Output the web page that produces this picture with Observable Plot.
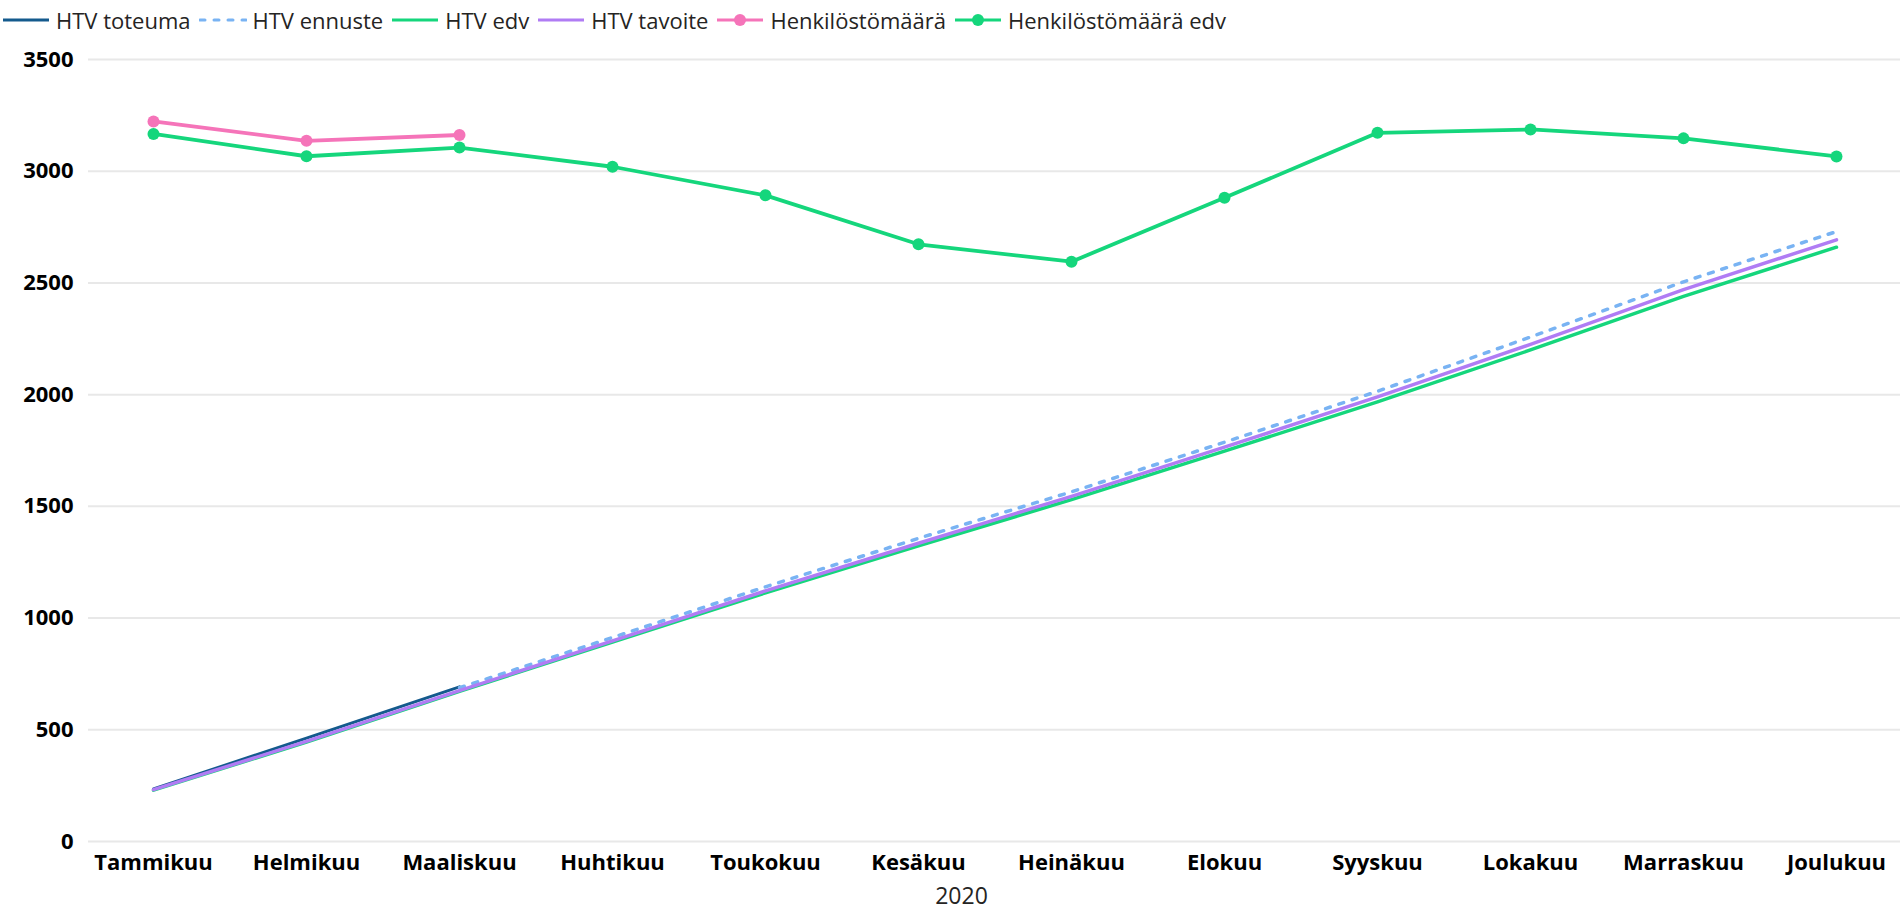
<!DOCTYPE html>
<html><head><meta charset="utf-8">
<script src="https://cdn.jsdelivr.net/npm/d3@7"></script>
<script src="https://cdn.jsdelivr.net/npm/@observablehq/plot@0.6"></script>
<style>
body{margin:0;background:#fff;font-family:"Open Sans",sans-serif;}
#legend{height:40px;display:flex;align-items:center;padding-left:2px;font-size:22px;color:#252423;white-space:nowrap;}
.item{display:flex;align-items:center;margin-right:8px;}
.item svg{margin-right:6px;}
</style></head><body><div id="legend"></div><div id="chart"></div>
<script>
const months = ["Tammikuu","Helmikuu","Maaliskuu","Huhtikuu","Toukokuu","Kesäkuu","Heinäkuu","Elokuu","Syyskuu","Lokakuu","Marraskuu","Joulukuu"];
const yTicks = [0,500,1000,1500,2000,2500,3000,3500];
const htvToteuma = [235,463,692,null,null,null,null,null,null,null,null,null];
const htvEnnuste = [null,null,688,913,1140,1357,1565,1787,2015,2258,2505,2730];
const htvEdv = [230,445,672,893,1113,1323,1530,1747,1968,2200,2440,2660];
const htvTavoite = [232,448,675,898,1122,1335,1545,1765,1990,2225,2470,2693];
const henkilosto = [3223,3136,3162,null,null,null,null,null,null,null,null,null];
const henkilostoEdv = [3167,3067,3106,3020,2892,2673,2595,2881,3172,3187,3147,3066];
const seriesNames = ["HTV toteuma","HTV ennuste","HTV edv","HTV tavoite","Henkilöstömäärä","Henkilöstömäärä edv"];
const colors = {toteuma:"#145a8d", ennuste:"#79b3f3", edv:"#15d67c", tavoite:"#b07cf4", henk:"#f574b9", henkEdv:"#15d67c"};

const legendSpec = [
  {name:seriesNames[0], color:colors.toteuma, dash:null, dot:false},
  {name:seriesNames[1], color:colors.ennuste, dash:"5,9", dot:false},
  {name:seriesNames[2], color:colors.edv, dash:null, dot:false},
  {name:seriesNames[3], color:colors.tavoite, dash:null, dot:false},
  {name:seriesNames[4], color:colors.henk, dash:null, dot:true},
  {name:seriesNames[5], color:colors.henkEdv, dash:null, dot:true}
];
const leg = document.getElementById("legend");
for (const s of legendSpec) {
  const it = document.createElement("div"); it.className = "item";
  it.innerHTML = `<svg width="48" height="14"><line x1="1" x2="47" y1="7" y2="7" stroke="${s.color}" stroke-width="3" ${s.dash?`stroke-dasharray="5,9" stroke-linecap="round"`:""}/>${s.dot?`<circle cx="24" cy="7" r="6" fill="${s.color}"/>`:""}</svg><span>${s.name}</span>`;
  leg.appendChild(it);
}

const rows = arr => months.map((m,i)=>({month:m, v:arr[i]}));
const chart = Plot.plot({
  width:1901, height:874, marginLeft:88, marginRight:1, marginTop:19, marginBottom:73,
  x:{type:"point", domain:months, padding:0.4, label:null},
  y:{domain:[0,3500], label:null},
  style:{fontFamily:"Open Sans", fontSize:"22px", color:"#000", background:"#fff"},
  marks:[
    Plot.ruleY(yTicks, {stroke:"#e8e8e8", strokeWidth:2}),
    Plot.axisY({ticks:yTicks, tickSize:0, tickPadding:15, tickFormat:d=>String(d), fontWeight:"bold", fontSize:22, label:null}),
    Plot.axisX({tickSize:0, tickPadding:13, fontWeight:"bold", fontSize:22, label:null}),
    Plot.line(rows(htvEdv), {x:"month", y:"v", stroke:colors.edv, strokeWidth:3.5}),
    Plot.line(rows(htvToteuma), {x:"month", y:"v", stroke:colors.toteuma, strokeWidth:3}),
    Plot.line(rows(htvEnnuste), {x:"month", y:"v", stroke:colors.ennuste, strokeWidth:3.5, strokeDasharray:"5,9", strokeLinecap:"round"}),
    Plot.line(rows(htvTavoite), {x:"month", y:"v", stroke:colors.tavoite, strokeWidth:3.5}),
    Plot.line(rows(henkilostoEdv), {x:"month", y:"v", stroke:colors.henkEdv, strokeWidth:3.8}),
    Plot.dot(rows(henkilostoEdv).filter(d=>d.v!=null), {x:"month", y:"v", fill:colors.henkEdv, r:6}),
    Plot.line(rows(henkilosto), {x:"month", y:"v", stroke:colors.henk, strokeWidth:3.8}),
    Plot.dot(rows(henkilosto).filter(d=>d.v!=null), {x:"month", y:"v", fill:colors.henk, r:6}),
    Plot.text(["2020"], {text:d=>d, frameAnchor:"bottom", dy:62, dx:-33, fontSize:23, fill:"#252423"})
  ]
});
document.getElementById("chart").appendChild(chart);
</script></body></html>
